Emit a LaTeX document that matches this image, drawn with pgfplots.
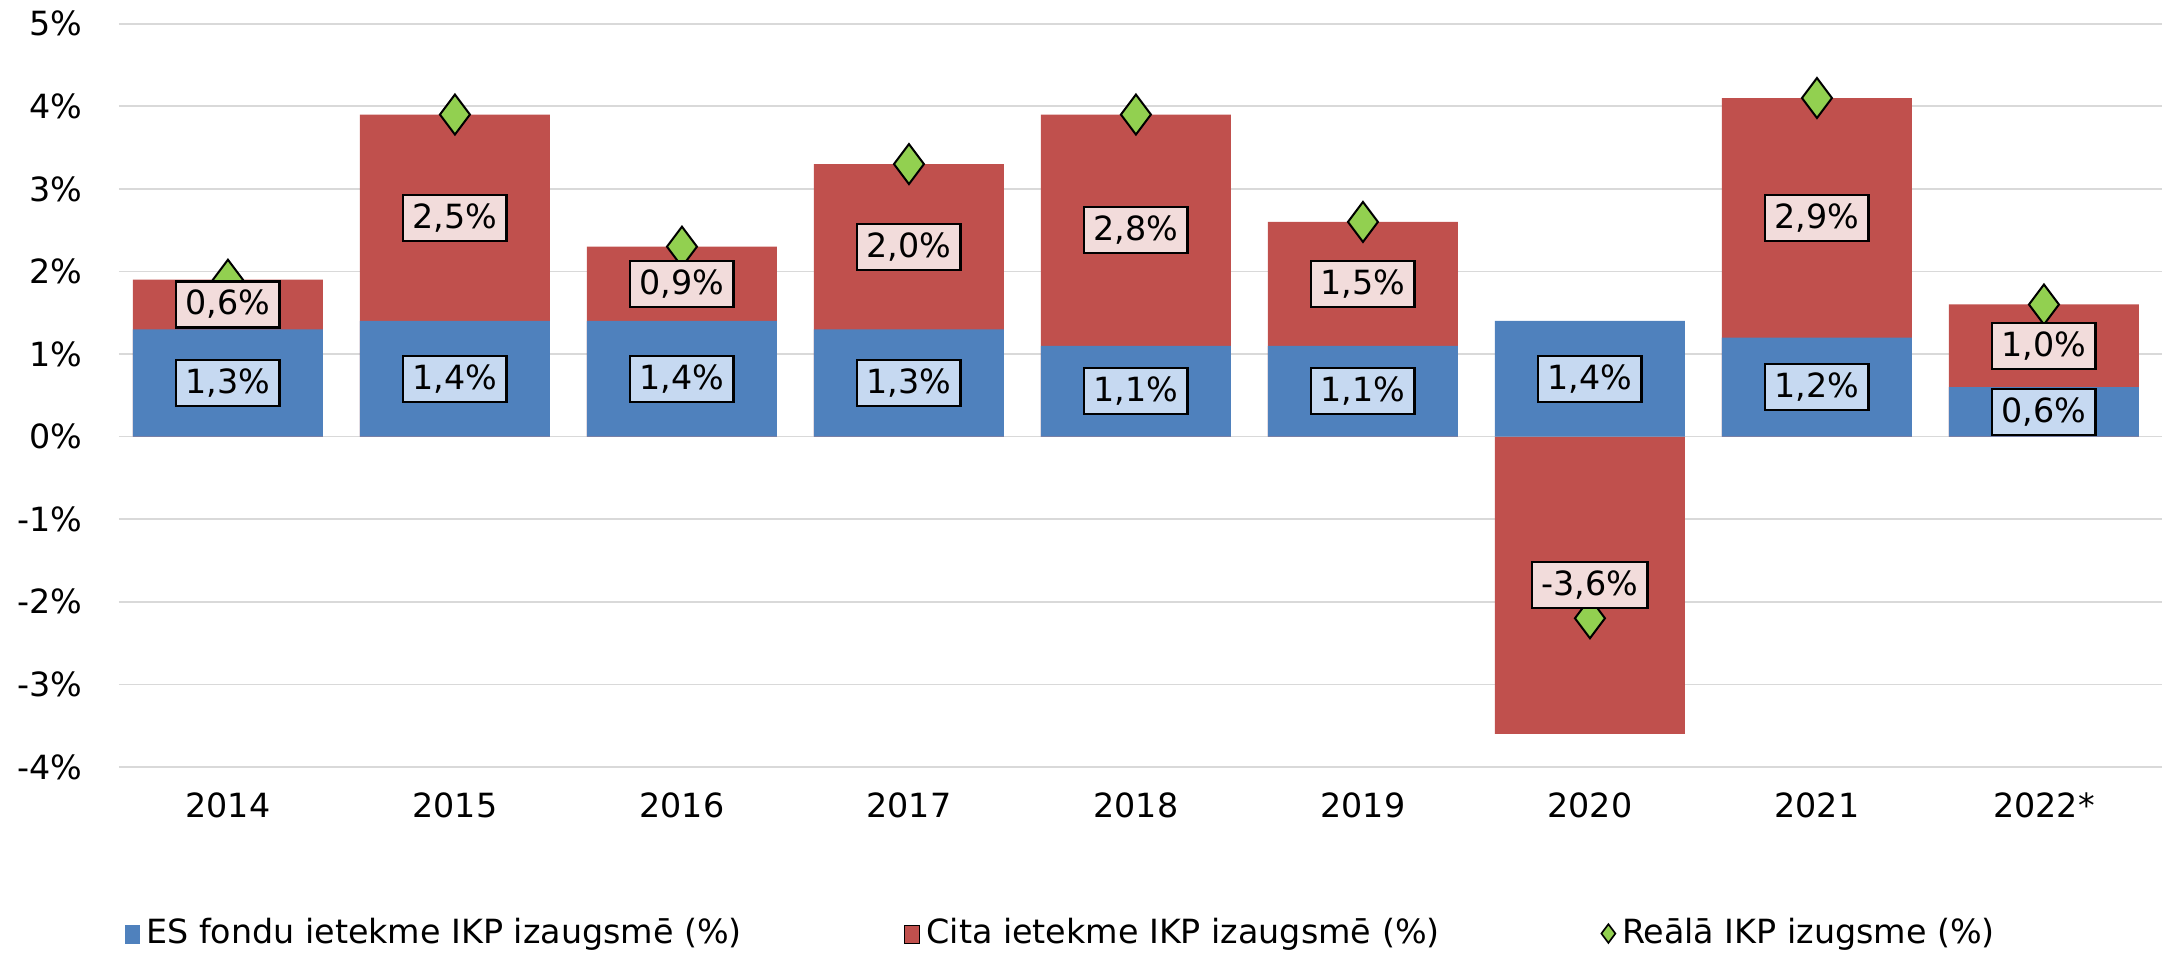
\documentclass[border=0pt]{standalone}
\usepackage{fontspec}
\setmainfont{DejaVu Sans}
\usepackage{pgfplots}
\usepackage{pgfplotstable}
\pgfplotsset{compat=1.18}

\definecolor{esblue}{HTML}{4F81BD}
\definecolor{citared}{HTML}{C0504D}
\definecolor{realgreen}{HTML}{92D050}
\definecolor{lblblue}{HTML}{C6D9F1}
\definecolor{lblred}{HTML}{F2DCDB}
\definecolor{gridgray}{HTML}{D9D9D9}

% year index, ES fondu ietekme, cita ietekme, reala IKP izaugsme
\pgfplotstableread{
year es  cita real
0    1.3  0.6  1.9
1    1.4  2.5  3.9
2    1.4  0.9  2.3
3    1.3  2.0  3.3
4    1.1  2.8  3.9
5    1.1  1.5  2.6
6    1.4 -3.6 -2.2
7    1.2  2.9  4.1
8    0.6  1.0  1.6
}\gdpdata

\begin{document}
\fontsize{10}{12}\selectfont
\begin{tikzpicture}
\begin{axis}[
    name=ax,
    scale only axis,
    width=613pt, height=223pt,
    xmin=-0.48, xmax=8.52,
    ymin=-4, ymax=5,
    ytick={-4,-3,...,5},
    xtick={0,...,8},
    xticklabels={2014,2015,2016,2017,2018,2019,2020,2021,2022*},
    yticklabel={\pgfmathprintnumber{\tick}\%},
    /pgf/number format/assume math mode=true,
    ymajorgrids,
    grid style={gridgray, line width=0.5pt},
    axis line style={draw=none},
    major tick length=0pt,
    xticklabel style={yshift=-4.2pt},
    yticklabel style={xshift=-7.5pt},
    legend columns=3,
    legend style={draw=none, inner sep=0pt,
        at={(rel axis cs:0,0)}, anchor=west, xshift=1.5pt, yshift=-50pt,
        /tikz/every even column/.append style={column sep=46.5pt}},
    legend cell align=left,
]

% red bars are drawn to the cumulative top, blue bars drawn over them
\addplot[ybar, bar width=57pt, bar shift=0pt, fill=citared, draw=none, forget plot]
    table[x=year, y expr={ifthenelse(\thisrow{cita}>0,\thisrow{es}+\thisrow{cita},\thisrow{cita})}] {\gdpdata};

\addplot[ybar, bar width=57pt, bar shift=0pt, fill=esblue, draw=none,
    legend image code/.code={\path[fill=esblue] (0pt,-3pt) rectangle (4.5pt,2.5pt);}]
    table[x=year, y=es] {\gdpdata};
\addlegendentry{ES fondu ietekme IKP izaugsmē (\%)}

\addlegendimage{legend image code/.code={\path[fill=citared] (0pt,-3pt) rectangle (4.5pt,2.5pt);}}
\addlegendentry{Cita ietekme IKP izaugsmē (\%)}

\addplot[only marks, mark=diamond*, mark size=6pt,
    mark options={fill=realgreen, draw=black, line width=0.6pt},
    legend image code/.code={\draw[mark=diamond*, mark size=2.8pt, mark options={fill=realgreen, draw=black, line width=0.5pt}] plot coordinates {(2pt,0pt)};}]
    table[x=year, y=real] {\gdpdata};
\addlegendentry{Reālā IKP izugsme (\%)}

% data labels
\addplot[draw=none, mark=none, forget plot, point meta=explicit,
    nodes near coords={\pgfmathprintnumber[fixed,fixed zerofill,precision=1,use comma]{\pgfplotspointmeta}\%},
    nodes near coords style={anchor=center, draw=black, line width=0.7pt, fill=lblblue,
        inner xsep=2.8pt, inner ysep=0pt, minimum height=13.8pt, text=black}]
    table[x=year, y expr=\thisrow{es}/2, meta=es] {\gdpdata};

\addplot[draw=none, mark=none, forget plot, point meta=explicit,
    nodes near coords={\pgfmathprintnumber[fixed,fixed zerofill,precision=1,use comma]{\pgfplotspointmeta}\%},
    nodes near coords style={anchor=center, draw=black, line width=0.7pt, fill=lblred,
        inner xsep=2.8pt, inner ysep=0pt, minimum height=13.8pt, text=black}]
    table[x=year, y expr={ifthenelse(\thisrow{cita}>0,\thisrow{es}+\thisrow{cita}/2,\thisrow{cita}/2)}, meta=cita] {\gdpdata};

\end{axis}
\path ([xshift=-35.7pt, yshift=-55.5pt]ax.south west) rectangle ([xshift=1.2pt, yshift=7pt]ax.north east);
\end{tikzpicture}
\end{document}
